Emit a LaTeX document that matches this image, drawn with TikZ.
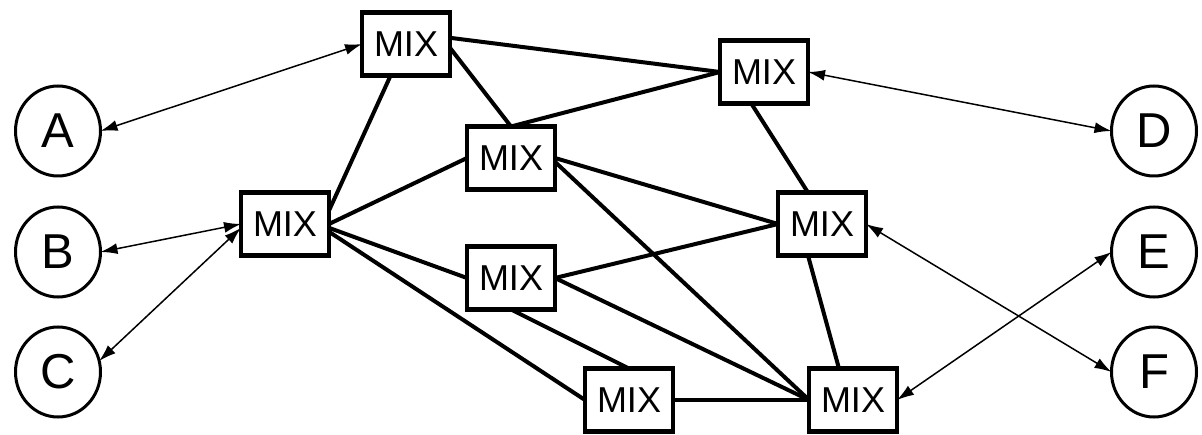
\documentclass[tikz,border=0pt]{standalone}
\usepackage{fontspec}
\setmainfont{Liberation Sans}
\usetikzlibrary{arrows.meta,shapes.geometric}
\begin{document}
\begin{tikzpicture}[x=1pt,y=-1pt,
  mixbox/.style={draw,line width=4.5pt,rectangle,minimum width=88pt,minimum height=63pt,inner sep=0pt,outer sep=0pt,font=\fontsize{36}{40}\selectfont},
  port/.style={draw,line width=3pt,ellipse,minimum width=85pt,minimum height=90pt,inner sep=0pt,outer sep=0pt,font=\fontsize{49}{52}\selectfont},
  link/.style={line width=4pt},
  flow/.style={line width=1.5pt,{Latex[length=17pt,width=11pt]}-{Latex[length=17pt,width=11pt]}}
]
\fill[white] (0,0) rectangle (1202,435);
\useasboundingbox (0,0) rectangle (1202,435);
% ports
\node[port] (A) at (58,131) {A};
\node[port] (B) at (58,252) {B};
\node[port] (C) at (58,372) {C};
\node[port] (D) at (1154,131) {D};
\node[port] (E) at (1154,252) {E};
\node[port] (F) at (1154,372) {F};
% mixers
\node[mixbox] (m1) at (406,44) {MIX};
\node[mixbox] (m2) at (285,224) {MIX};
\node[mixbox] (m3) at (511,158) {MIX};
\node[mixbox] (m4) at (511,278) {MIX};
\node[mixbox] (m5) at (629,400) {MIX};
\node[mixbox] (m6) at (764,72) {MIX};
\node[mixbox] (m7) at (822,224) {MIX};
\node[mixbox] (m8) at (853,400) {MIX};
% thick links
\draw[link] (m1.8) -- (m6.west);
\draw[link] (m1.355) -- (m3.north);
\draw[link] (m1.244) -- (m2.17);
\draw[link] (m3.north) -- (m6.west);
\draw[link] (m2.east) -- (m3.west);
\draw[link] (m2.355) -- (m4.west);
\draw[link] (m2.350) -- (m5.west);
\draw[link] (m3.east) -- (m7.west);
\draw[link] (m3.355) -- (m8.west);
\draw[link] (m4.east) -- (m7.west);
\draw[link] (m4.east) -- (m8.west);
\draw[link] (m4.south) -- (m5.north);
\draw[link] (m5.east) -- (m8.west);
\draw[link] (m6.248) -- (m7.114);
\draw[link] (m7.246) -- (m8.114);
% flows
\draw[flow] (A.east) -- (m1.west);
\draw[flow] (B.east) -- (m2.west);
\draw[flow] (C.15) -- (m2.185);
\draw[flow] (D.west) -- (m6.east);
\draw[flow] (F.west) -- (m7.east);
\draw[flow] (E.west) -- (m8.east);
\end{tikzpicture}
\end{document}
